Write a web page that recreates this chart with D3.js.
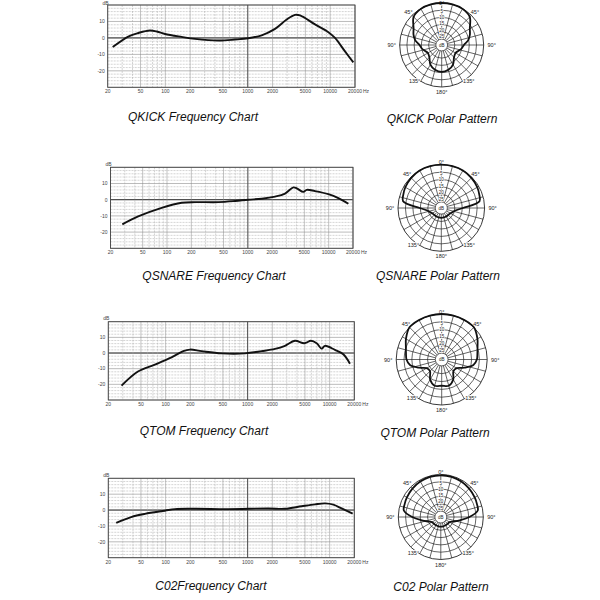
<!DOCTYPE html>
<html>
<head>
<meta charset="utf-8">
<script src="https://cdn.jsdelivr.net/npm/d3@7"></script>
<style>
  body { margin: 0; background: #fff; }
  text { font-family: "Liberation Sans", Arial, sans-serif; }
</style>
</head>
<body>
<div id="chart"></div>
<script>
// Data
const freqTicks = [20, 50, 100, 200, 500, 1000, 2000, 5000, 10000, 20000];
const dbTicks = [10, 0, -10, -20];
const ringLevels = [5, 10, 15, 20, 25];

const qkickHz = [23, 36, 47, 65, 79, 99, 158, 229, 440, 700, 1017, 1476, 2143, 2967, 3743, 4306, 6544, 9506, 11440, 15130, 19100];
const qkickDb = [-5.5, 1, 3, 4.5, 3.9, 2.4, 0.6, -0.6, -1.6, -1, -0.2, 1.6, 5.5, 11.2, 14, 13.7, 8.2, 3.5, 0, -8.2, -14.9];

const qsnareHz = [28, 44, 86, 152, 223, 433, 695, 1016, 1486, 2172, 2886, 3659, 4025, 4865, 5347, 6781, 9910, 13180, 17520];
const qsnareDb = [-15.2, -10.3, -5, -1.9, -1.5, -1.5, -0.8, 0, 0.6, 1.9, 3.8, 7.6, 7, 4.8, 6.1, 5.3, 3.4, 1, -2.5];

const qtomHz = [29, 46, 74, 118, 164, 198, 275, 482, 928, 1483, 2158, 2854, 3778, 4909, 5926, 6950, 8000, 8777, 11620, 14690, 17700];
const qtomDb = [-20.8, -11.8, -7.4, -2.8, 1.2, 2.2, 1.2, -0.2, -0.2, 1.2, 2.6, 4.6, 7.8, 6.2, 7.8, 6.2, 2.8, 4.6, 2, -0.8, -6.8];

const c02Hz = [25, 38, 56, 98, 130, 228, 581, 1787, 2854, 4560, 6630, 8777, 11090, 14030, 19100];
const c02Db = [-8, -4.4, -2.4, -0.4, 0.6, 0.8, 0.6, 1, 0.8, 2.4, 3.6, 4.2, 3.4, 1, -2.2];

// polar patterns: level (dB) at each angle, right half mirrored
const polarAngles = [0, 15, 30, 45, 60, 70, 80, 90, 100, 110, 120, 135, 150, 165, 180];
const qkickPolar = [0, 0, -0.2, -1.6, -6.6, -8.3, -10.5, -13.7, -15.1, -16.9, -18, -17, -13.4, -11.3, -10.5];
const qsnarePolar = [0, 0, 0, -0.5, -1.2, -2, -3, -14.5, -19.5, -21, -22, -22.5, -22.5, -22.5, -22.5];
const qtomPolar = [0, 0, 0, 0, -2.7, -4.7, -5.9, -6.6, -8.5, -13.7, -18, -18.5, -14.3, -11.7, -12.3];
const c02Polar = [-0.5, -0.6, -1, -1.6, -2.3, -2.8, -3.4, -9.5, -16, -20, -22, -22.5, -22.5, -22.5, -22.5];

const freqTitles = ["QKICK Frequency Chart", "QSNARE Frequency Chart", "QTOM Frequency Chart", "C02Frequency Chart"];
const polarTitles = ["QKICK Polar Pattern", "QSNARE Polar Pattern", "QTOM Polar Pattern", "C02 Polar Pattern"];

// Dimensions
const width = 600, height = 600;

const svg = d3.select("#chart").append("svg")
  .attr("width", width)
  .attr("height", height);

// minor grid frequencies 20..20000
const minorHz = [];
[10, 100, 1000, 10000].forEach((dec) => {
  for (let k = 1; k <= 9; k++) {
    const f = k * dec;
    if (f >= 20 && f <= 20000) minorHz.push(f);
  }
});
minorHz.push(20000);
const minorDb = d3.range(-30, 21, 2);

function freqChart(box, hz, db, title, tx, ty) {
  const x = d3.scaleLog().domain([20, 20000]).range([box.left, box.right]);
  const y = d3.scaleLinear().domain([-30, 20]).range([box.bottom, box.top]);
  const g = svg.append("g");

  // grid
  g.selectAll(".hminor").data(minorDb).join("line")
    .attr("x1", box.left).attr("x2", box.right)
    .attr("y1", (d) => y(d)).attr("y2", (d) => y(d))
    .attr("stroke", (d) => (d % 10 === 0 ? "#777" : "#aaa"))
    .attr("stroke-width", 0.5)
    .attr("stroke-dasharray", (d) => (d % 10 === 0 ? null : "2,1"));
  g.append("line")
    .attr("x1", box.left).attr("x2", box.right)
    .attr("y1", y(0)).attr("y2", y(0))
    .attr("stroke", "#333").attr("stroke-width", 1);

  g.selectAll(".vminor").data(minorHz).join("line")
    .attr("x1", (d) => x(d)).attr("x2", (d) => x(d))
    .attr("y1", box.top).attr("y2", box.bottom)
    .attr("stroke", (d) => (d === 1000 ? "#555" : freqTicks.includes(d) ? "#888" : "#aaa"))
    .attr("stroke-width", (d) => (d === 1000 ? 1.1 : 0.5))
    .attr("stroke-dasharray", (d) => (freqTicks.includes(d) ? null : "2,1"));

  g.append("rect")
    .attr("x", box.left).attr("y", box.top)
    .attr("width", box.right - box.left).attr("height", box.bottom - box.top)
    .attr("fill", "none").attr("stroke", "#444").attr("stroke-width", 0.9);

  // tick labels
  g.selectAll(".ylab").data(dbTicks).join("text")
    .attr("x", box.left - 3).attr("y", (d) => y(d) + 1.8)
    .attr("text-anchor", "end").attr("font-size", 5).attr("fill", "#444")
    .text((d) => d);
  g.append("text")
    .attr("x", box.left + 1).attr("y", Math.max(box.top - 1.5, 4.5))
    .attr("text-anchor", "end").attr("font-size", 5).attr("fill", "#444")
    .text("dB");
  g.selectAll(".xlab").data(freqTicks).join("text")
    .attr("x", (d) => x(d)).attr("y", box.bottom + 6)
    .attr("text-anchor", "middle").attr("font-size", 5).attr("fill", "#444")
    .text((d) => d);
  g.append("text")
    .attr("x", box.right + 8).attr("y", box.bottom + 6)
    .attr("font-size", 5).attr("fill", "#444")
    .text("Hz");

  // response curve
  const line = d3.line()
    .x((d, i) => x(hz[i]))
    .y((d) => y(d))
    .curve(d3.curveCatmullRom.alpha(0.5));
  g.append("path")
    .attr("d", line(db))
    .attr("fill", "none").attr("stroke", "#111").attr("stroke-width", 1.9);

  svg.append("text")
    .attr("x", tx).attr("y", ty)
    .attr("text-anchor", "middle").attr("font-size", 12).attr("font-style", "italic")
    .attr("fill", "#111")
    .text(title);
}

function polarChart(cx, cy, R, levels, title, tx, ty) {
  const r = d3.scaleLinear().domain([-25, 0]).range([R * 0.14, R]);
  const labelR = d3.scaleLinear().domain([5, 25]).range([R * 0.8, R * 0.21]);
  const g = svg.append("g").attr("transform", `translate(${cx},${cy})`);
  const gridColor = "#222";

  // spokes
  g.selectAll(".spoke").data(d3.range(0, 360, 15)).join("line")
    .attr("x1", (d) => r(-25) * Math.sin((d * Math.PI) / 180))
    .attr("y1", (d) => -r(-25) * Math.cos((d * Math.PI) / 180))
    .attr("x2", (d) => R * Math.sin((d * Math.PI) / 180))
    .attr("y2", (d) => -R * Math.cos((d * Math.PI) / 180))
    .attr("stroke", gridColor).attr("stroke-width", 0.7);

  // rings
  g.selectAll(".ring").data([0, -5, -10, -15, -20, -25]).join("circle")
    .attr("r", (d) => r(d))
    .attr("fill", (d) => (d === -25 ? "#fff" : "none"))
    .attr("stroke", gridColor).attr("stroke-width", (d) => (d === 0 ? 0.9 : 0.7));

  // ring labels
  g.selectAll(".rlab").data(ringLevels).join("text")
    .attr("x", 0)
    .attr("y", (d) => -labelR(d) + 1.6)
    .attr("text-anchor", "middle").attr("font-size", 4.5).attr("fill", "#222")
    .attr("stroke", "#fff").attr("stroke-width", 1.4).attr("paint-order", "stroke")
    .text((d) => d);
  g.append("text")
    .attr("x", 0).attr("y", 1.6)
    .attr("text-anchor", "middle").attr("font-size", 4.5).attr("fill", "#222")
    .text("dB");

  // angle labels
  const angLabels = [
    { t: "0°", a: 0, d: Math.min(R + 2.5, cy - 2.5) },
    { t: "45°", a: -45, d: R + 5 },
    { t: "45°", a: 45, d: R + 5 },
    { t: "90°", a: -90, d: R + 8 },
    { t: "90°", a: 90, d: R + 8 },
    { t: "135°", a: -143, d: R + 3 },
    { t: "135°", a: 143, d: R + 3 },
    { t: "180°", a: 180, d: R + 5 },
  ];
  g.selectAll(".alab").data(angLabels).join("text")
    .attr("x", (d) => d.d * Math.sin((d.a * Math.PI) / 180))
    .attr("y", (d) => -d.d * Math.cos((d.a * Math.PI) / 180) + 2)
    .attr("text-anchor", "middle").attr("font-size", 5.5).attr("fill", "#222")
    .attr("stroke", "#fff").attr("stroke-width", 1.5).attr("paint-order", "stroke")
    .text((d) => d.t);

  // pattern: right half then mirrored left half
  const pts = polarAngles.map((a, i) => [a, levels[i]]);
  const mirror = polarAngles.slice(1, -1).map((a, i) => [360 - a, levels[i + 1]]).reverse();
  const all = pts.concat(mirror);
  const radial = d3.lineRadial()
    .angle((d) => (d[0] * Math.PI) / 180)
    .radius((d) => r(d[1]))
    .curve(d3.curveCatmullRomClosed.alpha(0.5));
  g.append("path")
    .attr("d", radial(all))
    .attr("fill", "none").attr("stroke", "#111").attr("stroke-width", 1.8);

  svg.append("text")
    .attr("x", tx).attr("y", ty)
    .attr("text-anchor", "middle").attr("font-size", 12).attr("font-style", "italic")
    .attr("fill", "#111")
    .text(title);
}

freqChart({ left: 107.7, right: 355, top: 5, bottom: 87.3 }, qkickHz, qkickDb, freqTitles[0], 193, 121);
freqChart({ left: 110.5, right: 353, top: 167.3, bottom: 248.3 }, qsnareHz, qsnareDb, freqTitles[1], 214, 280);
freqChart({ left: 108.3, right: 354.3, top: 321.7, bottom: 400 }, qtomHz, qtomDb, freqTitles[2], 204, 435);
freqChart({ left: 108.3, right: 354.3, top: 478.3, bottom: 557.7 }, c02Hz, c02Db, freqTitles[3], 211, 590);

polarChart(441.7, 45, 42, qkickPolar, polarTitles[0], 442, 123);
polarChart(441.3, 208, 43.3, qsnarePolar, polarTitles[1], 438, 280);
polarChart(441.7, 359.5, 45.5, qtomPolar, polarTitles[2], 435, 437);
polarChart(440.8, 517, 42.5, c02Polar, polarTitles[3], 441, 591);
</script>
</body>
</html>
